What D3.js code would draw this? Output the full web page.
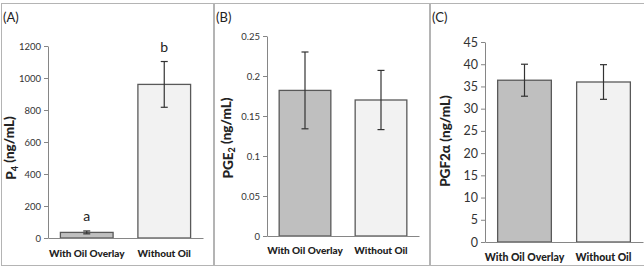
<!DOCTYPE html>
<html>
<head>
<meta charset="utf-8">
<script src="https://cdn.jsdelivr.net/npm/d3@7"></script>
<style>
  body { margin: 0; background: #fff; }
  svg { display: block; font-family: Lato, "Open Sans", sans-serif; }
  .axis path, .axis line { stroke: #868686; }
  .axis text { fill: #333; }
</style>
</head>
<body>
<script>
// data
var categories = ["With Oil Overlay", "Without Oil"];

var p4Mean = [35, 960];
var p4Err = [9, 143];
var p4Letters = ["a", "b"];
var p4Ticks = [0, 200, 400, 600, 800, 1000, 1200];

var pge2Mean = [0.182, 0.170];
var pge2Err = [0.048, 0.037];
var pge2Ticks = [0, 0.05, 0.1, 0.15, 0.2, 0.25];

var pgf2aMean = [36.4, 36.0];
var pgf2aErr = [3.6, 3.9];
var pgf2aTicks = [0, 5, 10, 15, 20, 25, 30, 35, 40, 45];

var barFill = ["#bfbfbf", "#f2f2f2"];

var svg = d3.select("body").append("svg")
    .attr("width", 644)
    .attr("height", 267);

// panel layouts
var panels = [
  { tag: "(A)", fx: 1, fw: 213, left: 48, right: 203, top: 46, bottom: 238,
    mean: p4Mean, err: p4Err, ticks: p4Ticks, letters: p4Letters,
    tickSize: 9.5, catSize: 10, catY: 257, label: ["P", "4", " (ng/mL)"], labX: 11, labY: 148 },
  { tag: "(B)", fx: 214, fw: 216, left: 267, right: 419, top: 36, bottom: 236,
    mean: pge2Mean, err: pge2Err, ticks: pge2Ticks, letters: null,
    tickSize: 9.5, catSize: 10, catY: 254, label: ["PGE", "2", " (ng/mL)"], labX: 228, labY: 138 },
  { tag: "(C)", fx: 430, fw: 216, left: 485, right: 643, top: 42, bottom: 242,
    mean: pgf2aMean, err: pgf2aErr, ticks: pgf2aTicks, letters: null,
    tickSize: 12.5, catSize: 10.5, catY: 261, label: ["PGF2\u03b1 (ng/mL)"], labX: 445, labY: 141 }
];

panels.forEach(function(p) {
  var g = svg.append("g");

  // frame
  g.append("rect")
      .attr("x", p.fx + 0.5)
      .attr("y", 3.5)
      .attr("width", p.fw - 1)
      .attr("height", 262)
      .attr("fill", "none")
      .attr("stroke", "#b4b4b4");

  g.append("text")
      .attr("x", p.fx + 2)
      .attr("y", 22)
      .style("font-size", "13px")
      .attr("fill", "#222")
      .text(p.tag);

  var x = d3.scaleBand()
      .domain(categories)
      .range([p.left, p.right])
      .paddingInner(0.32)
      .paddingOuter(0.16);

  var y = d3.scaleLinear()
      .domain([p.ticks[0], p.ticks[p.ticks.length - 1]])
      .range([p.bottom, p.top]);

  // y axis
  var yAxis = g.append("g")
      .attr("class", "axis")
      .attr("transform", "translate(" + p.left + ",0)")
      .call(d3.axisLeft(y).tickValues(p.ticks).tickSize(4).tickSizeOuter(0)
        .tickFormat(function(d) { return String(+d.toFixed(2)); }));
  yAxis.selectAll("text")
      .style("font-size", p.tickSize + "px")
      .style("font-family", "Lato, sans-serif")
      .attr("x", -7);

  // bars
  g.selectAll(".bar")
      .data(p.mean)
    .enter().append("rect")
      .attr("class", "bar")
      .attr("x", function(d, i) { return x(categories[i]); })
      .attr("width", x.bandwidth())
      .attr("y", function(d) { return y(d); })
      .attr("height", function(d) { return p.bottom - y(d); })
      .attr("fill", function(d, i) { return barFill[i]; })
      .attr("stroke", "#595959")
      .attr("stroke-width", 1.3);

  // x axis (no ticks)
  var xAxis = g.append("g")
      .attr("class", "axis")
      .attr("transform", "translate(0," + p.bottom + ")")
      .call(d3.axisBottom(x).tickSize(0).tickSizeOuter(0));
  xAxis.selectAll("text").remove();

  g.selectAll(".cat")
      .data(categories)
    .enter().append("text")
      .attr("class", "cat")
      .attr("x", function(d) { return x(d) + x.bandwidth() / 2; })
      .attr("y", p.catY)
      .attr("text-anchor", "middle")
      .style("font-size", p.catSize + "px")
      .style("font-weight", "900")
      .attr("fill", "#222")
      .text(function(d) { return d; });

  // error bars
  var eb = g.selectAll(".err")
      .data(p.mean)
    .enter().append("g")
      .attr("class", "err")
      .attr("stroke", "#333")
      .attr("stroke-width", 1.2);
  eb.append("line")
      .attr("x1", function(d, i) { return x(categories[i]) + x.bandwidth() / 2; })
      .attr("x2", function(d, i) { return x(categories[i]) + x.bandwidth() / 2; })
      .attr("y1", function(d, i) { return y(d + p.err[i]); })
      .attr("y2", function(d, i) { return y(d - p.err[i]); });
  [1, -1].forEach(function(s) {
    eb.append("line")
        .attr("x1", function(d, i) { return x(categories[i]) + x.bandwidth() / 2 - 3.5; })
        .attr("x2", function(d, i) { return x(categories[i]) + x.bandwidth() / 2 + 3.5; })
        .attr("y1", function(d, i) { return y(d + s * p.err[i]); })
        .attr("y2", function(d, i) { return y(d + s * p.err[i]); });
  });

  // significance letters
  if (p.letters) {
    g.selectAll(".letter")
        .data(p.letters)
      .enter().append("text")
        .attr("class", "letter")
        .attr("x", function(d, i) { return x(categories[i]) + x.bandwidth() / 2; })
        .attr("y", function(d, i) { return y(p.mean[i] + p.err[i]) - 10; })
        .attr("text-anchor", "middle")
        .style("font-size", "14px")
        .attr("fill", "#222")
        .text(function(d) { return d; });
  }

  // y label
  var lab = g.append("text")
      .attr("transform", "translate(" + p.labX + "," + p.labY + ") rotate(-90)")
      .attr("text-anchor", "middle")
      .attr("dy", "0.35em")
      .style("font-size", "13.5px")
      .style("font-weight", "900")
      .attr("fill", "#222");
  if (p.label.length === 3) {
    lab.append("tspan").text(p.label[0]);
    lab.append("tspan").attr("dy", "0.3em").style("font-size", "9px").text(p.label[1]);
    lab.append("tspan").attr("dy", "-0.3em").text(p.label[2]);
  } else {
    lab.text(p.label[0]);
  }
});
</script>
</body>
</html>
